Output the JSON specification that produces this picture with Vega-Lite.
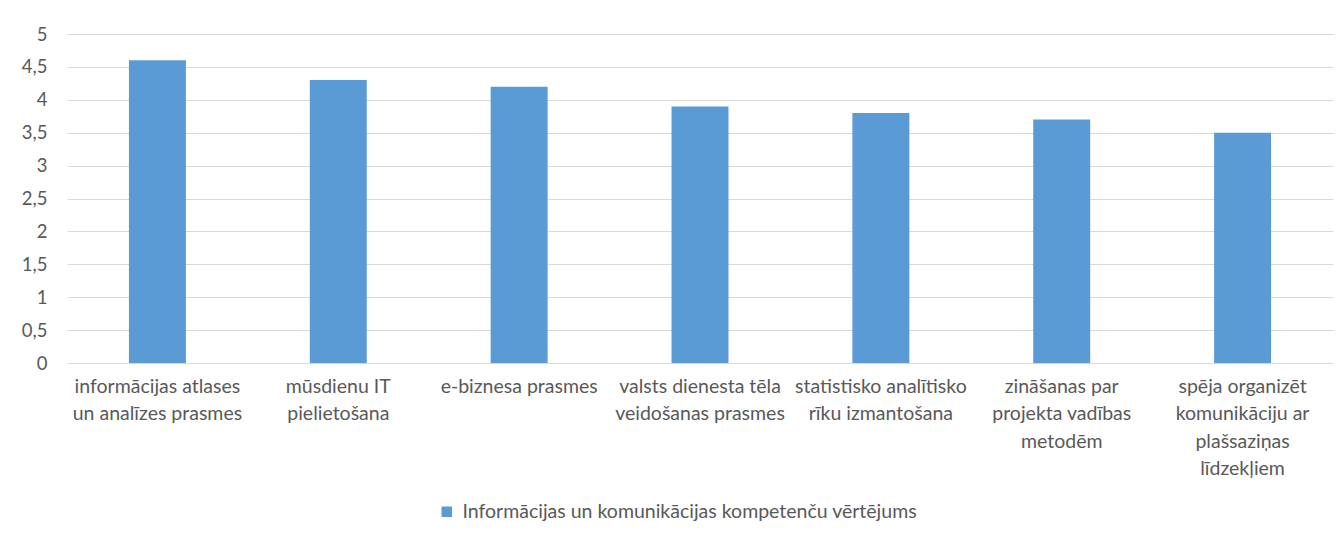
{
  "$schema": "https://vega.github.io/schema/vega-lite/v6.json",
  "width": 1266,
  "height": 329,
  "autosize": {"type": "none"},
  "padding": {"left": 67, "top": 34, "right": 11, "bottom": 170},
  "background": "white",
  "config": {
    "view": {"stroke": null},
    "font": "Lato",
    "axis": {"labelFont": "Lato", "labelColor": "#595959", "labelFontSize": 19.5}
  },
  "data": {
    "values": [
      {"category": "informācijas atlases|un analīzes prasmes", "value": 4.6, "series": "Informācijas un komunikācijas kompetenču vērtējums"},
      {"category": "mūsdienu IT|pielietošana", "value": 4.3, "series": "Informācijas un komunikācijas kompetenču vērtējums"},
      {"category": "e-biznesa prasmes", "value": 4.2, "series": "Informācijas un komunikācijas kompetenču vērtējums"},
      {"category": "valsts dienesta tēla|veidošanas prasmes", "value": 3.9, "series": "Informācijas un komunikācijas kompetenču vērtējums"},
      {"category": "statistisko analītisko|rīku izmantošana", "value": 3.8, "series": "Informācijas un komunikācijas kompetenču vērtējums"},
      {"category": "zināšanas par|projekta vadības|metodēm", "value": 3.7, "series": "Informācijas un komunikācijas kompetenču vērtējums"},
      {"category": "spēja organizēt|komunikāciju ar|plašsaziņas|līdzekļiem", "value": 3.5, "series": "Informācijas un komunikācijas kompetenču vērtējums"}
    ]
  },
  "mark": {"type": "bar", "color": "#5B9BD5"},
  "encoding": {
    "x": {
      "field": "category",
      "type": "nominal",
      "sort": null,
      "scale": {"paddingInner": 0.685, "paddingOuter": 0.3425},
      "axis": {
        "title": null,
        "labelAngle": 0,
        "ticks": false,
        "domain": false,
        "labelPadding": 14,
        "labelLineHeight": 27.5,
        "labelLimit": 0,
        "labelFontSize": 19.5,
        "labelExpr": "split(datum.label, '|')"
      }
    },
    "y": {
      "field": "value",
      "type": "quantitative",
      "scale": {"domain": [0, 5]},
      "axis": {
        "title": null,
        "values": [0, 0.5, 1, 1.5, 2, 2.5, 3, 3.5, 4, 4.5, 5],
        "labelExpr": "replace(format(datum.value, '~g'), '.', ',')",
        "ticks": false,
        "domain": false,
        "gridColor": "#D9D9D9",
        "gridWidth": 1,
        "labelFontSize": 18.5,
        "labelPadding": 20
      }
    },
    "color": {
      "field": "series",
      "type": "nominal",
      "scale": {"range": ["#5B9BD5"]},
      "legend": {
        "title": null,
        "orient": "none",
        "legendX": 370,
        "legendY": 468,
        "symbolType": "square",
        "symbolSize": 110,
        "symbolOffset": 0,
        "labelOffset": 6,
        "labelLimit": 0,
        "labelFontSize": 19.5,
        "labelColor": "#595959",
        "labelFont": "Lato"
      }
    }
  }
}
